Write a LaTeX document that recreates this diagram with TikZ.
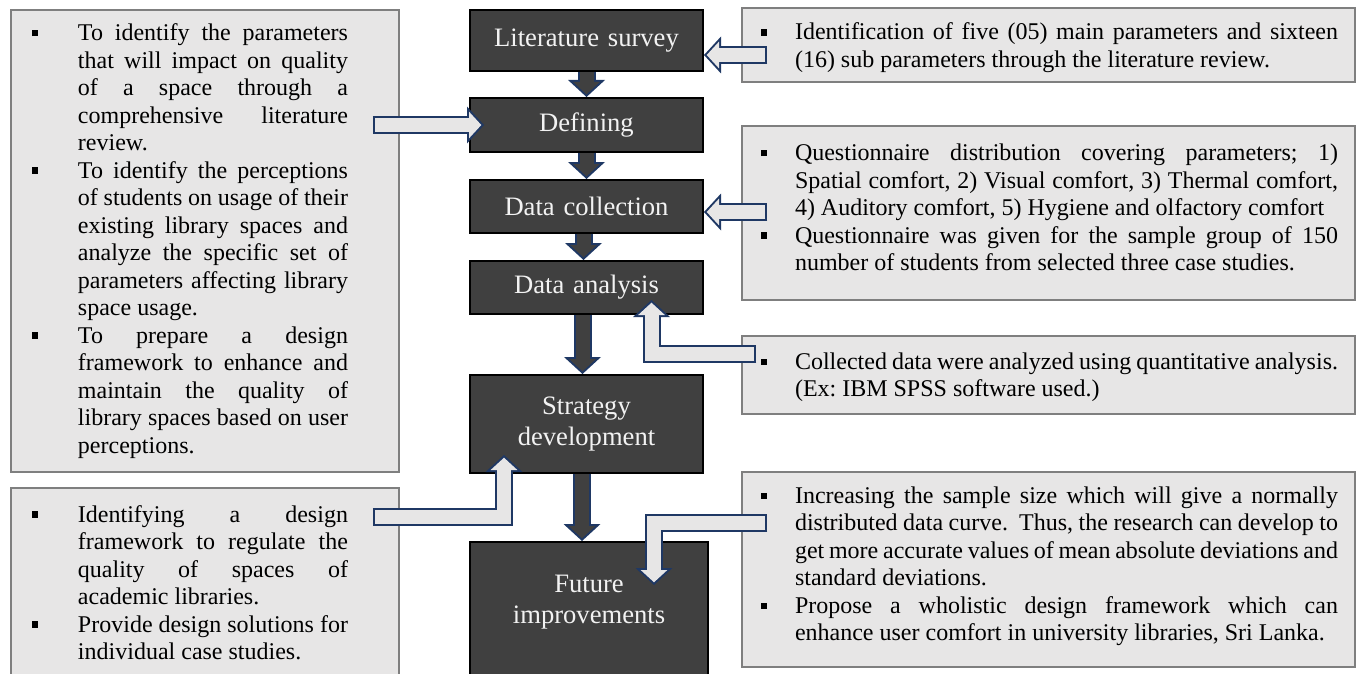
\documentclass[tikz,border=0pt]{standalone}
\usepackage{fontspec}
\setmainfont{Liberation Serif}
\usetikzlibrary{arrows.meta,calc}

\definecolor{notegray}{HTML}{E7E6E6}
\definecolor{notedraw}{HTML}{7F7F7F}
\definecolor{stagefill}{HTML}{404040}
\definecolor{arrownavy}{HTML}{1F3864}

\tolerance=10000
\hbadness=10000
\hyphenpenalty=10000
\frenchspacing

\newlength{\hind}
\newlength{\boff}
\newcommand{\bul}{\rule[2.2pt]{3.2pt}{3.2pt}}
\newcommand{\bitem}{\leavevmode\hangindent=\hind\hangafter=1\relax\hbox to\hind{\hspace*{\boff}\bul\hfil}\ignorespaces}
% block arrow: navy outline, then the fill on top
\newcommand{\blockarrow}[3]{%
  \draw[blkout] #3;
  \draw[blkin,draw=#1,#2] #3;}

\begin{document}
\begin{tikzpicture}[x=0.5pt,y=-0.5pt,
  note/.style={draw=notedraw,line width=0.75pt,fill=notegray,inner ysep=0pt,align=justify,
    font=\fontsize{12}{13.75}\selectfont},
  leftnote/.style={note,inner xsep=9.5pt,text width=175pt,minimum width=194pt,
    execute at begin node={\setlength{\hind}{24pt}\setlength{\boff}{1pt}\rightskip=16pt\relax}},
  rightnote/.style={note,inner xsep=8.5pt,text width=289.5pt,minimum width=306.5pt,
    execute at begin node={\setlength{\hind}{18pt}\setlength{\boff}{1pt}}},
  stage/.style={draw=black,line width=1pt,fill=stagefill,text=white!95!black,align=center,
    text width=110pt,inner xsep=2pt,inner ysep=0pt,minimum width=116.5pt,
    font=\fontsize{13.3}{15.3}\selectfont},
  blkout/.style={draw=arrownavy,line width=9pt,-{Triangle[length=8.5pt,width=18.5pt,line width=0pt]}},
  blkin/.style={line width=7pt,shorten >=1.36pt,-{Triangle[length=6.14pt,width=13.36pt,line width=0pt]}}]

  \path[use as bounding box] (0,0) rectangle (1359,674);

  \node[leftnote,minimum height=231pt] (aims) at (205,241) {%
    \bitem To identify the parameters\linebreak that will impact on quality\linebreak of a space through a\linebreak comprehensive literature\linebreak review.\par
    \bitem To identify the perceptions\linebreak of students on usage of their\linebreak existing library spaces and\linebreak analyze the specific set of\linebreak parameters affecting library\linebreak space usage.\par
    \bitem To prepare a design\linebreak framework to enhance and\linebreak maintain the quality of\linebreak library spaces based on user\linebreak perceptions.\par};
  \node[leftnote,minimum height=94.5pt] (outcome) at (205,582.5) {%
    \bitem Identifying a design\linebreak framework to regulate the\linebreak quality of spaces of\linebreak academic libraries.\par
    \bitem Provide design solutions for\linebreak individual case studies.\par};

  \node[rightnote,minimum height=37pt,text height=11.3pt] (review) at (1048.5,45) {%
    \bitem Identification of five (05) main parameters and sixteen\linebreak (16) sub parameters through the literature review.\par};
  \node[rightnote,minimum height=87pt,text height=2.8pt] (survey) at (1048.5,213) {%
    \bitem Questionnaire distribution covering parameters; 1)\linebreak Spatial comfort, 2) Visual comfort, 3) Thermal comfort,\linebreak 4) Auditory comfort, 5) Hygiene and olfactory comfort\par
    \bitem Questionnaire was given for the sample group of 150\linebreak number of students from selected three case studies.\par};
  \node[rightnote,minimum height=39pt,text height=10.7pt] (stats) at (1048.5,375) {%
    \bitem Collected data were analyzed using quantitative analysis.\linebreak (Ex: IBM SPSS software used.)\par};
  \node[rightnote,minimum height=97.5pt,text height=5.2pt] (future) at (1048.5,569.5) {%
    \bitem Increasing the sample size which will give a normally\linebreak distributed data curve.\ \ Thus, the research can develop to\linebreak get more accurate values of mean absolute deviations and\linebreak standard deviations.\par
    \bitem Propose a wholistic design framework which can\linebreak enhance user comfort in university libraries, Sri Lanka.\par};

  \node[stage,minimum height=30.5pt] (lit) at (586.5,40.5) {Literature survey};
  \node[stage,minimum height=27pt] (def) at (586.5,125) {Defining};
  \node[stage,minimum height=26.5pt] (col) at (586.5,206.5) {Data collection};
  \node[stage,minimum height=26.5pt] (ana) at (586.5,287.5) {Data analysis};
  \node[stage,minimum height=49pt] (str) at (586.5,424) {Strategy\\development};
  \node[stage,minimum height=74pt,minimum width=119pt] (imp) at (589,616) {Future\\improvements\par\vspace*{14pt}};

  \blockarrow{stagefill}{}{(lit.south) -- (def.north)}
  \blockarrow{stagefill}{}{(def.south) -- (col.north)}
  \blockarrow{stagefill}{}{($(col.south)+(-3,0)$) -- ($(ana.north)+(-3,0)$)}
  \blockarrow{stagefill}{}{($(ana.south)+(-4,0)$) -- ($(str.north)+(-4,0)$)}
  \blockarrow{stagefill}{}{($(str.south)+(-4.5,0)$) -- ($(imp.north)+(-7,0)$)}

  \blockarrow{notegray}{shorten <=1pt}{($(review.west)+(26,10)$) -- ($(lit.east)+(0,14.5)$)}
  \blockarrow{notegray}{shorten <=1pt}{($(aims.east |- def.west)+(-27,0)$) -- ($(def.west)+(15,0)$)}
  \blockarrow{notegray}{shorten <=1pt}{($(survey.west |- col.east)+(26,5.5)$) -- ($(col.east)+(0,5.5)$)}
  \blockarrow{notegray}{shorten <=1pt}{($(stats.west)+(15,-21)$) -| ($(ana.south)+(65,-15)$)}
  \blockarrow{notegray}{shorten <=1pt}{($(outcome.east)+(-27,-65.5)$) -| ($(str.south)+(-82.5,-19)$)}
  \blockarrow{notegray}{shorten <=1pt}{($(future.west)+(26,-46.5)$) -| ($(imp.north)+(65,44)$)}

\end{tikzpicture}
\end{document}
